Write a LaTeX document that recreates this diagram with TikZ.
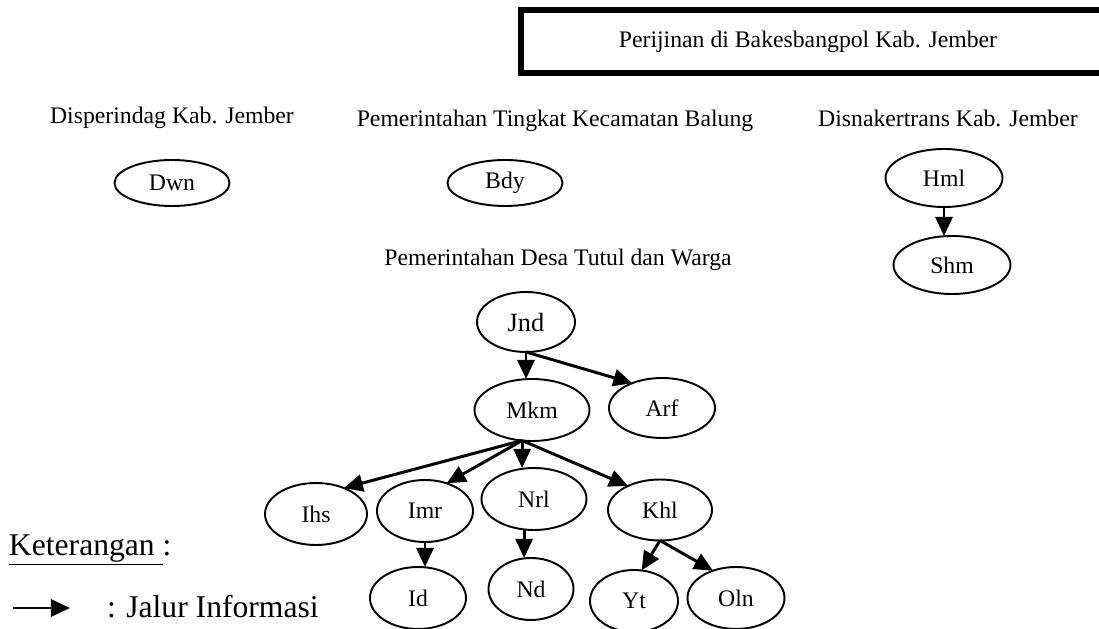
\documentclass[tikz,border=0pt]{standalone}
\usepackage{fontspec}
\setmainfont{Liberation Serif}
\usetikzlibrary{shapes.geometric,arrows.meta}

\begin{document}
\begin{tikzpicture}[x=0.2mm, y=-0.2mm]
\tikzset{ >={Triangle[length=3.8mm,width=3.4mm]}, inner sep=0pt, outer sep=0pt,
  agen/.style 2 args={ellipse, draw, line width=1.1pt, minimum width=#1, minimum height=#2, font=\fontsize{13.5}{16}\selectfont},
  lbl/.style={font=\fontsize{13.5}{16}\selectfont},
  ket/.style={font=\fontsize{18}{21}\selectfont, anchor=west},
  jalur/.style={->, line width=1.7pt},
}

\useasboundingbox (0,0) rectangle (1099,629);
\clip (0,0) rectangle (1099,629);
%\draw [lightgray, dashed, step=50] (0,0) grid (1099,629);

\draw [line width=1.2mm] (521,10) rectangle (1120,73);
\node [lbl] (judul) at (808,42) {Perijinan di Bakesbangpol Kab. Jember};

\node [lbl] (disp) at (172,118) {Disperindag Kab. Jember};
\node [lbl] (kec)  at (555,121) {Pemerintahan Tingkat Kecamatan Balung};
\node [lbl] (disn) at (948,118) {Disnakertrans Kab. Jember};
\node [lbl] (desa) at (558,260) {Pemerintahan Desa Tutul dan Warga};

\node [agen={23mm}{9.2mm}]   (Dwn) at (172,183) {Dwn};
\node [agen={23mm}{9.2mm}]   (Bdy) at (505,183) {Bdy};
\node [agen={23.4mm}{11.6mm}] (Hml) at (944,178) {Hml};
\node [agen={23.4mm}{11.6mm}] (Shm) at (952,265) {Shm};

\node [agen={19.6mm}{12mm}, font=\fontsize{15}{18}\selectfont] (Jnd) at (526,322) {Jnd};
\node [agen={23mm}{12.4mm}]  (Mkm) at (532,410) {Mkm};
\node [agen={21.2mm}{12mm}]  (Arf) at (662,408) {Arf};

\node [agen={20.4mm}{12.4mm}] (Ihs) at (316,514) {Ihs};
\node [agen={19.2mm}{12.4mm}] (Imr) at (425,511) {Imr};
\node [agen={21mm}{12.4mm}]   (Nrl) at (534,499) {Nrl};
\node [agen={20.8mm}{12.2mm}] (Khl) at (660,510) {Khl};

\node [agen={19.2mm}{12.4mm}] (Id)  at (418,598) {Id};
\node [agen={17mm}{12.4mm}]   (Nd)  at (531,589) {Nd};
\node [agen={17.6mm}{12.4mm}] (Yt)  at (634,601) {Yt};
\node [agen={19.4mm}{12.4mm}] (Oln) at (736,598) {Oln};

\draw [jalur] (Hml.south) -- (Hml.south |- Shm.north);

\draw [jalur] (Jnd.south) -- (Jnd.south |- Mkm.north);
\draw [jalur] (Jnd.south) -- (Arf.140);

\draw [jalur] (Mkm.252) -- (Ihs.43);
\draw [jalur] (Mkm.252) -- (Imr.52);
\draw [jalur] (Mkm.252) -- (Mkm.252 |- Nrl.north);
\draw [jalur] (Mkm.252) -- (Khl.143);

\draw [jalur] (Imr.south) -- (Imr.south |- Id.north);
\draw [jalur] (Nrl.252) -- (Nrl.252 |- Nd.north);
\draw [jalur] (Khl.south) -- (Yt.76);
\draw [jalur] (Khl.south) -- (Oln.130);

\node [ket] (ket) at (9,550) {\underline{Keterangan\ }:};
\coordinate (lgA) at (13,608);
\coordinate (lgB) at (70,608);
\draw [jalur] (lgA) -- (lgB);
\node [ket] (info) at (107,607) {: Jalur Informasi};
\end{tikzpicture}
\end{document}
